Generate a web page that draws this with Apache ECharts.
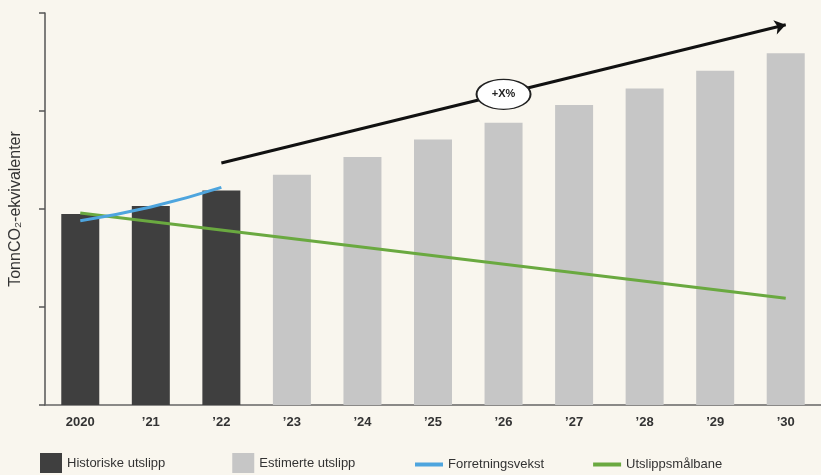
<!DOCTYPE html>
<html>
<head>
<meta charset="utf-8">
<script src="https://cdn.jsdelivr.net/npm/echarts@6/dist/echarts.min.js"></script>
<style>
  html, body { margin: 0; padding: 0; background: #f9f6ee; }
  #chart { width: 821px; height: 475px; }
</style>
</head>
<body>
<div id="chart"></div>
<script>
// years on the x axis
var years = ['2020', '\u201921', '\u201922', '\u201923', '\u201924', '\u201925', '\u201926', '\u201927', '\u201928', '\u201929', '\u201930'];
// historic and estimated emissions (arbitrary units, axis 0..4)
var historiske = [1.95, 2.03, 2.19, null, null, null, null, null, null, null, null];
var estimerte = [null, null, null, 2.35, 2.53, 2.71, 2.88, 3.06, 3.23, 3.41, 3.59];
// business growth line and emission target path
var forretningsvekst = [1.88, 2.02, 2.22, null, null, null, null, null, null, null, null];
var utslippsmalbane = [1.96, null, null, null, null, null, null, null, null, null, 1.09];
// growth arrow annotation (start, end) and label position
var arrowStart = ['\u201922', 2.47];
var arrowEnd = ['\u201930', 3.88];
var badgePos = ['\u201926', 3.17];
var badgeText = '+X%';

var chart = echarts.init(document.getElementById('chart'));

var option = {
  backgroundColor: '#f9f6ee',
  animation: false,
  textStyle: { fontFamily: 'Liberation Sans, Arial, sans-serif' },
  grid: { left: 45, right: -3, top: 13, bottom: 70 },
  legend: [
    {
      left: 35, top: 448,
      itemWidth: 22, itemHeight: 20, itemGap: 67,
      icon: 'rect',
      textStyle: { fontSize: 13, color: '#333' },
      data: ['Historiske utslipp', 'Estimerte utslipp']
    },
    {
      left: 410, top: 453,
      itemWidth: 28, itemHeight: 4, itemGap: 49,
      icon: 'rect',
      textStyle: { fontSize: 13, color: '#333' },
      data: ['Forretningsvekst', 'Utslippsmålbane']
    }
  ],
  xAxis: {
    type: 'category',
    data: years,
    axisLine: { lineStyle: { color: '#666', width: 1.5 } },
    axisTick: { show: false },
    axisLabel: { color: '#333', fontSize: 13, fontWeight: 'bold', margin: 11 }
  },
  yAxis: {
    type: 'value',
    min: 0, max: 4, interval: 1,
    name: 'TonnCO\u2082-ekvivalenter',
    nameLocation: 'middle',
    nameGap: 21,
    nameTextStyle: { fontSize: 16, color: '#333' },
    axisLine: { show: true, lineStyle: { color: '#555', width: 1.5 } },
    axisTick: { show: true, inside: false, length: 6, lineStyle: { color: '#555', width: 1.5 } },
    axisLabel: { show: false },
    splitLine: { show: false }
  },
  series: [
    {
      name: 'Historiske utslipp',
      type: 'bar',
      data: historiske,
      barWidth: 38,
      barGap: '-100%',
      itemStyle: { color: '#3f3f3f' }
    },
    {
      name: 'Estimerte utslipp',
      type: 'bar',
      data: estimerte,
      barWidth: 38,
      barGap: '-100%',
      itemStyle: { color: '#c6c6c6' }
    },
    {
      name: 'Forretningsvekst',
      type: 'line',
      data: forretningsvekst,
      smooth: true,
      showSymbol: false,
      z: 4,
      itemStyle: { color: '#4ea5de' },
      lineStyle: { color: '#4ea5de', width: 3 }
    },
    {
      name: 'Utslippsmålbane',
      type: 'line',
      data: utslippsmalbane,
      connectNulls: true,
      showSymbol: false,
      z: 3,
      itemStyle: { color: '#6aa940' },
      lineStyle: { color: '#6aa940', width: 3 }
    },
    {
      name: 'arrow',
      type: 'line',
      data: [],
      z: 6,
      markLine: {
        silent: true,
        symbol: ['none', 'arrow'],
        symbolSize: 11,
        label: { show: false },
        lineStyle: { color: '#111', width: 3, type: 'solid' },
        data: [[{ coord: arrowStart }, { coord: arrowEnd }]]
      }
    },
    {
      name: 'badge',
      type: 'line',
      data: [],
      z: 7,
      markPoint: {
        silent: true,
        symbol: 'circle',
        symbolSize: [54, 30],
        itemStyle: { color: '#ffffff', borderColor: '#222', borderWidth: 1.5 },
        label: { show: true, position: 'inside', formatter: badgeText, color: '#222', fontSize: 11, fontWeight: 'bold' },
        data: [{ coord: badgePos }]
      }
    }
  ]
};

chart.setOption(option);
</script>
</body>
</html>
